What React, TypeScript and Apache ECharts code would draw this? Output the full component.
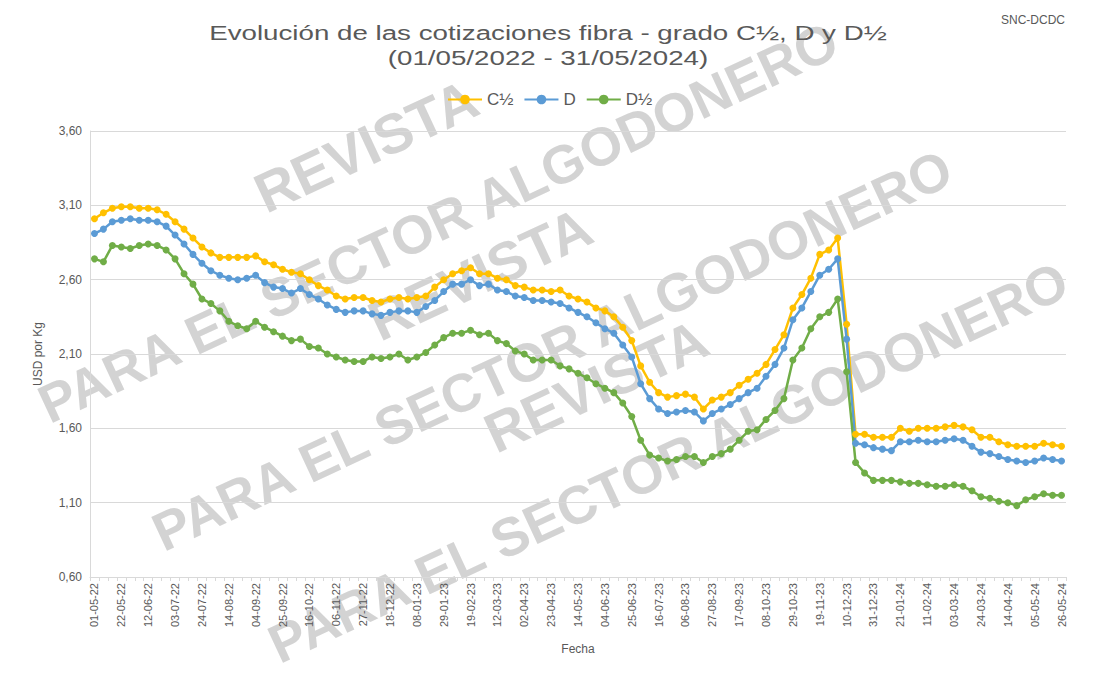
import React, { useEffect, useRef } from 'react';
import * as echarts from 'echarts';

const fechas = [
  '01-05-22','08-05-22','15-05-22','22-05-22','29-05-22','05-06-22','12-06-22','19-06-22','26-06-22',
  '03-07-22','10-07-22','17-07-22','24-07-22','31-07-22','07-08-22','14-08-22','21-08-22','28-08-22',
  '04-09-22','11-09-22','18-09-22','25-09-22','02-10-22','09-10-22','16-10-22','23-10-22','30-10-22',
  '06-11-22','13-11-22','20-11-22','27-11-22','04-12-22','11-12-22','18-12-22','25-12-22','01-01-23',
  '08-01-23','15-01-23','22-01-23','29-01-23','05-02-23','12-02-23','19-02-23','26-02-23','05-03-23',
  '12-03-23','19-03-23','26-03-23','02-04-23','09-04-23','16-04-23','23-04-23','30-04-23','07-05-23',
  '14-05-23','21-05-23','28-05-23','04-06-23','11-06-23','18-06-23','25-06-23','02-07-23','09-07-23',
  '16-07-23','23-07-23','30-07-23','06-08-23','13-08-23','20-08-23','27-08-23','03-09-23','10-09-23',
  '17-09-23','24-09-23','01-10-23','08-10-23','15-10-23','22-10-23','29-10-23','05-11-23','12-11-23',
  '19-11-23','26-11-23','03-12-23','10-12-23','17-12-23','24-12-23','31-12-23','07-01-24','14-01-24',
  '21-01-24','28-01-24','04-02-24','11-02-24','18-02-24','25-02-24','03-03-24','10-03-24','17-03-24',
  '24-03-24','31-03-24','07-04-24','14-04-24','21-04-24','28-04-24','05-05-24','12-05-24','19-05-24',
  '26-05-24'
];

const gradoC12 = [
  3.01,3.05,3.08,3.09,3.09,3.08,3.08,3.07,3.04,2.99,2.94,2.88,2.82,2.78,2.75,2.75,2.75,2.75,
  2.76,2.72,2.70,2.67,2.65,2.64,2.60,2.56,2.53,2.49,2.47,2.48,2.48,2.46,2.45,2.47,2.48,2.47,
  2.48,2.49,2.55,2.60,2.64,2.66,2.68,2.64,2.64,2.61,2.60,2.56,2.55,2.53,2.53,2.52,2.53,2.49,
  2.47,2.45,2.41,2.39,2.35,2.28,2.19,2.02,1.91,1.84,1.81,1.82,1.83,1.81,1.73,1.79,1.81,1.84,
  1.89,1.93,1.97,2.03,2.13,2.23,2.41,2.50,2.61,2.77,2.80,2.88,2.30,1.56,1.56,1.54,1.54,1.54,
  1.60,1.58,1.60,1.60,1.60,1.61,1.62,1.61,1.59,1.54,1.54,1.51,1.49,1.48,1.48,1.48,1.50,1.49,
  1.48
];

const gradoD = [
  2.91,2.94,2.99,3.00,3.01,3.00,3.00,2.99,2.96,2.90,2.84,2.77,2.71,2.66,2.63,2.61,2.60,2.61,
  2.63,2.58,2.55,2.54,2.51,2.54,2.50,2.47,2.43,2.40,2.38,2.39,2.39,2.37,2.36,2.38,2.39,2.39,
  2.38,2.42,2.46,2.52,2.57,2.57,2.60,2.56,2.57,2.53,2.52,2.49,2.48,2.46,2.46,2.45,2.44,2.41,
  2.38,2.35,2.31,2.27,2.24,2.16,2.08,1.90,1.80,1.73,1.70,1.71,1.72,1.71,1.65,1.70,1.73,1.76,
  1.80,1.84,1.87,1.95,2.03,2.14,2.33,2.41,2.52,2.63,2.67,2.74,2.20,1.50,1.49,1.47,1.46,1.45,
  1.51,1.51,1.52,1.51,1.51,1.52,1.53,1.52,1.48,1.44,1.43,1.41,1.39,1.38,1.37,1.38,1.40,1.39,
  1.38
];

const gradoD12 = [
  2.74,2.72,2.83,2.82,2.81,2.83,2.84,2.83,2.80,2.74,2.64,2.57,2.47,2.44,2.39,2.32,2.29,2.27,
  2.32,2.28,2.25,2.22,2.19,2.20,2.15,2.14,2.10,2.08,2.06,2.05,2.05,2.08,2.07,2.08,2.10,2.06,
  2.08,2.11,2.16,2.21,2.24,2.24,2.26,2.23,2.24,2.19,2.17,2.12,2.10,2.06,2.06,2.06,2.02,2.00,
  1.97,1.94,1.90,1.87,1.84,1.77,1.68,1.52,1.42,1.40,1.38,1.39,1.41,1.41,1.37,1.41,1.43,1.46,
  1.52,1.58,1.59,1.66,1.72,1.80,2.06,2.14,2.27,2.35,2.38,2.47,1.98,1.37,1.30,1.25,1.25,1.25,
  1.24,1.23,1.23,1.22,1.21,1.21,1.22,1.21,1.18,1.14,1.13,1.11,1.10,1.08,1.12,1.14,1.16,1.15,
  1.15
];

const seriesNames = ['C½', 'D', 'D½'];
const titleLines = ['Evolución de las cotizaciones fibra - grado C½, D y D½', '(01/05/2022 - 31/05/2024)'];
const sourceText = 'SNC-DCDC';
const yAxisName = 'USD por Kg';
const xAxisName = 'Fecha';
const watermarkWords = ['REVISTA', 'PARA EL SECTOR ALGODONERO'];

const FONT = '"Liberation Sans", Arial, Helvetica, sans-serif';
const TEXT_COLOR = '#595959';
const GRID_COLOR = '#d9d9d9';

// watermark layout (three copies of a two-line block)
const wmCenters = [
  { x: 438, y: 222 },
  { x: 552, y: 350 },
  { x: 668, y: 462 },
];

export default function App() {
  const ref = useRef<HTMLDivElement>(null);

  useEffect(() => {
    if (!ref.current) return;
    const chart = echarts.init(ref.current, null, { renderer: 'svg' });
    const rot = (25 * Math.PI) / 180;

    const wmStyle = {
      fontSize: 54,
      fontWeight: 'bold',
      fontFamily: FONT,
      fill: '#c2c2c2',
      opacity: 0.72,
      textAlign: 'center',
      textVerticalAlign: 'middle',
    };
    const wmElements: any[] = [];
    wmCenters.forEach((c) => {
      wmElements.push({
        type: 'text',
        x: c.x - 72,
        y: c.y - 76,
        rotation: rot,
        z: 0,
        silent: true,
        style: { ...wmStyle, text: watermarkWords[0], fontSize: 56 },
      });
      wmElements.push({
        type: 'text',
        x: c.x,
        y: c.y,
        rotation: rot,
        z: 0,
        silent: true,
        style: { ...wmStyle, text: watermarkWords[1] },
      });
    });

    const option: any = {
      animation: false,
      backgroundColor: '#ffffff',
      textStyle: { fontFamily: FONT },
      color: ['#FFC000', '#5B9BD5', '#70AD47'],
      graphic: [
        ...wmElements,
        {
          type: 'text',
          x: 548,
          y: 33,
          scaleX: 1.32,
          z: 10,
          style: {
            text: titleLines[0],
            fontSize: 21,
            fontFamily: FONT,
            fill: TEXT_COLOR,
            textAlign: 'center',
            textVerticalAlign: 'middle',
          },
        },
        {
          type: 'text',
          x: 548,
          y: 58,
          scaleX: 1.32,
          z: 10,
          style: {
            text: titleLines[1],
            fontSize: 21,
            fontFamily: FONT,
            fill: TEXT_COLOR,
            textAlign: 'center',
            textVerticalAlign: 'middle',
          },
        },
        {
          type: 'text',
          x: 1033,
          y: 20,
          z: 10,
          style: {
            text: sourceText,
            fontSize: 12,
            fontFamily: FONT,
            fill: TEXT_COLOR,
            textAlign: 'center',
            textVerticalAlign: 'middle',
          },
        },
      ],
      legend: {
        data: seriesNames,
        left: 442,
        top: 86,
        itemWidth: 34,
        itemHeight: 12,
        itemGap: 10,
        textStyle: { fontSize: 17, color: TEXT_COLOR, fontFamily: FONT },
      },
      grid: { left: 90, right: 27, top: 131, bottom: 96, containLabel: false },
      xAxis: {
        type: 'category',
        data: fechas,
        boundaryGap: true,
        name: xAxisName,
        nameLocation: 'middle',
        nameGap: 66,
        nameTextStyle: { fontSize: 12, color: TEXT_COLOR, fontFamily: FONT },
        axisLine: { show: true, lineStyle: { color: GRID_COLOR, width: 1 } },
        axisTick: { show: true, interval: 0, length: 4, lineStyle: { color: GRID_COLOR } },
        axisLabel: {
          interval: 2,
          rotate: 90,
          fontSize: 11,
          color: TEXT_COLOR,
          fontFamily: FONT,
          margin: 6,
        },
        splitLine: { show: false },
      },
      yAxis: {
        type: 'value',
        min: 0.6,
        max: 3.6,
        interval: 0.5,
        name: yAxisName,
        nameLocation: 'middle',
        nameGap: 46,
        nameTextStyle: { fontSize: 12, color: TEXT_COLOR, fontFamily: FONT },
        axisLine: { show: true, lineStyle: { color: GRID_COLOR } },
        axisTick: { show: false },
        axisLabel: {
          fontSize: 12,
          color: TEXT_COLOR,
          fontFamily: FONT,
          margin: 8,
          formatter: (v: number) => v.toFixed(2).replace('.', ','),
        },
        splitLine: { show: true, lineStyle: { color: GRID_COLOR, width: 1 } },
      },
      series: [
        { name: seriesNames[0], data: gradoC12 },
        { name: seriesNames[1], data: gradoD },
        { name: seriesNames[2], data: gradoD12 },
      ].map((s) => ({
        ...s,
        type: 'line',
        symbol: 'circle',
        symbolSize: 7,
        showSymbol: true,
        showAllSymbol: true,
        lineStyle: { width: 2.5 },
        z: 5,
      })),
    };

    chart.setOption(option);
    return () => chart.dispose();
  }, []);

  return (
    <div
      ref={ref}
      style={{ position: 'absolute', left: 0, top: 0, width: 1093, height: 673, background: '#fff' }}
    />
  );
}
